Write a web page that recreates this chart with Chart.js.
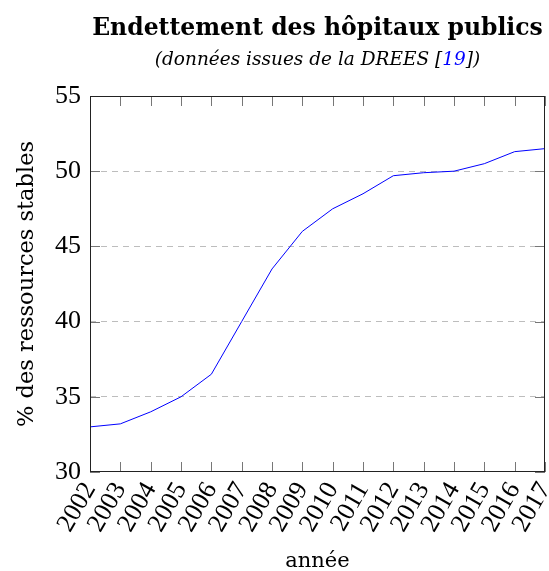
<!DOCTYPE html>
<html>
<head>
<meta charset="utf-8">
<script src="https://cdn.jsdelivr.net/npm/chart.js@4/dist/chart.umd.min.js"></script>
<style>
  html, body { margin: 0; padding: 0; background: #fff; }
</style>
</head>
<body>
<canvas id="endettementChart" width="549" height="571"></canvas>
<script>
// Données
const annees = ["2002", "2003", "2004", "2005", "2006", "2007", "2008", "2009",
                "2010", "2011", "2012", "2013", "2014", "2015", "2016", "2017"];
const endettement = [33.0, 33.2, 34.0, 35.0, 36.5, 40.0, 43.5, 46.0,
                     47.5, 48.5, 49.7, 49.9, 50.0, 50.5, 51.3, 51.5];
const yTicks = [30, 35, 40, 45, 50, 55];

const titre = "Endettement des hôpitaux publics";
const sousTitre = ["(données issues de la DREES [", "19", "])"];

// Cadre + petites graduations vers l'intérieur
const cadre = {
  id: "cadre",
  afterDatasetsDraw(chart) {
    const { ctx, chartArea: a, scales: { x, y } } = chart;
    ctx.save();
    ctx.strokeStyle = "#777";
    ctx.lineWidth = 1;
    ctx.beginPath();
    annees.forEach((_, i) => {
      const px = Math.round(x.getPixelForValue(i)) + 0.5;
      ctx.moveTo(px, a.bottom); ctx.lineTo(px, a.bottom - 10);
      ctx.moveTo(px, a.top); ctx.lineTo(px, a.top + 10);
    });
    yTicks.forEach(v => {
      const py = Math.round(y.getPixelForValue(v)) + 0.5;
      ctx.moveTo(a.left, py); ctx.lineTo(a.left + 10, py);
      ctx.moveTo(a.right, py); ctx.lineTo(a.right - 10, py);
    });
    ctx.stroke();
    ctx.strokeStyle = "#222";
    ctx.strokeRect(Math.round(a.left) + 0.5, Math.round(a.top) + 0.5,
                   Math.round(a.width) - 1, Math.round(a.height) - 1);
    ctx.restore();
  }
};

// Titre et sous-titre centrés sur la zone du graphique
const titres = {
  id: "titres",
  afterDraw(chart) {
    const { ctx, chartArea: a } = chart;
    const cx = (a.left + a.right) / 2;
    ctx.save();
    ctx.fillStyle = "#000";
    ctx.textAlign = "center";
    ctx.textBaseline = "alphabetic";
    ctx.font = "bold 23.5px 'DejaVu Serif'";
    ctx.fillText(titre, cx, 35);

    ctx.font = "italic 18.5px 'DejaVu Serif'";
    const largeurs = sousTitre.map(t => ctx.measureText(t).width);
    let px = cx - largeurs.reduce((s, w) => s + w, 0) / 2;
    ctx.textAlign = "left";
    sousTitre.forEach((t, i) => {
      ctx.fillStyle = i === 1 ? "#0000ff" : "#000";
      ctx.fillText(t, px, 65);
      px += largeurs[i];
    });
    ctx.restore();
  }
};

const ctx = document.getElementById("endettementChart").getContext("2d");

new Chart(ctx, {
  type: "line",
  data: {
    labels: annees,
    datasets: [{
      data: endettement,
      borderColor: "#0000ff",
      borderWidth: 1,
      pointRadius: 0,
      tension: 0,
      fill: false
    }]
  },
  options: {
    responsive: false,
    animation: false,
    layout: { padding: { top: 96, right: 4, bottom: 0, left: 0 } },
    plugins: {
      legend: { display: false },
      tooltip: { enabled: false }
    },
    scales: {
      x: {
        offset: false,
        afterFit: (scale) => {
          scale.height = 99;
          scale.paddingLeft = 0;
          scale.paddingRight = 0;
        },
        grid: { display: false, drawTicks: false },
        border: { display: false },
        ticks: {
          color: "#000",
          font: { family: "'Liberation Serif'", size: 26 },
          minRotation: 60,
          maxRotation: 60,
          padding: 5,
          autoSkip: false
        },
        title: {
          display: true,
          text: "année",
          color: "#000",
          font: { family: "'DejaVu Serif'", size: 21 },
          padding: { top: 0, bottom: -3 }
        }
      },
      y: {
        min: 30,
        max: 55,
        afterFit: (scale) => { scale.width = 90; },
        afterBuildTicks: (scale) => { scale.ticks = yTicks.map(v => ({ value: v })); },
        grid: {
          drawTicks: false,
          color: (c) => (c.tick && (c.tick.value === 30 || c.tick.value === 55)) ? "rgba(0,0,0,0)" : "#bdbdbd"
        },
        border: { display: false, dash: [6, 5] },
        ticks: {
          color: "#000",
          font: { family: "'Liberation Serif'", size: 26 },
          padding: 9
        },
        title: {
          display: true,
          text: "% des ressources stables",
          color: "#000",
          font: { family: "'DejaVu Serif'", size: 22.5 },
          padding: { top: 14 }
        }
      }
    }
  },
  plugins: [cadre, titres]
});
</script>
</body>
</html>
